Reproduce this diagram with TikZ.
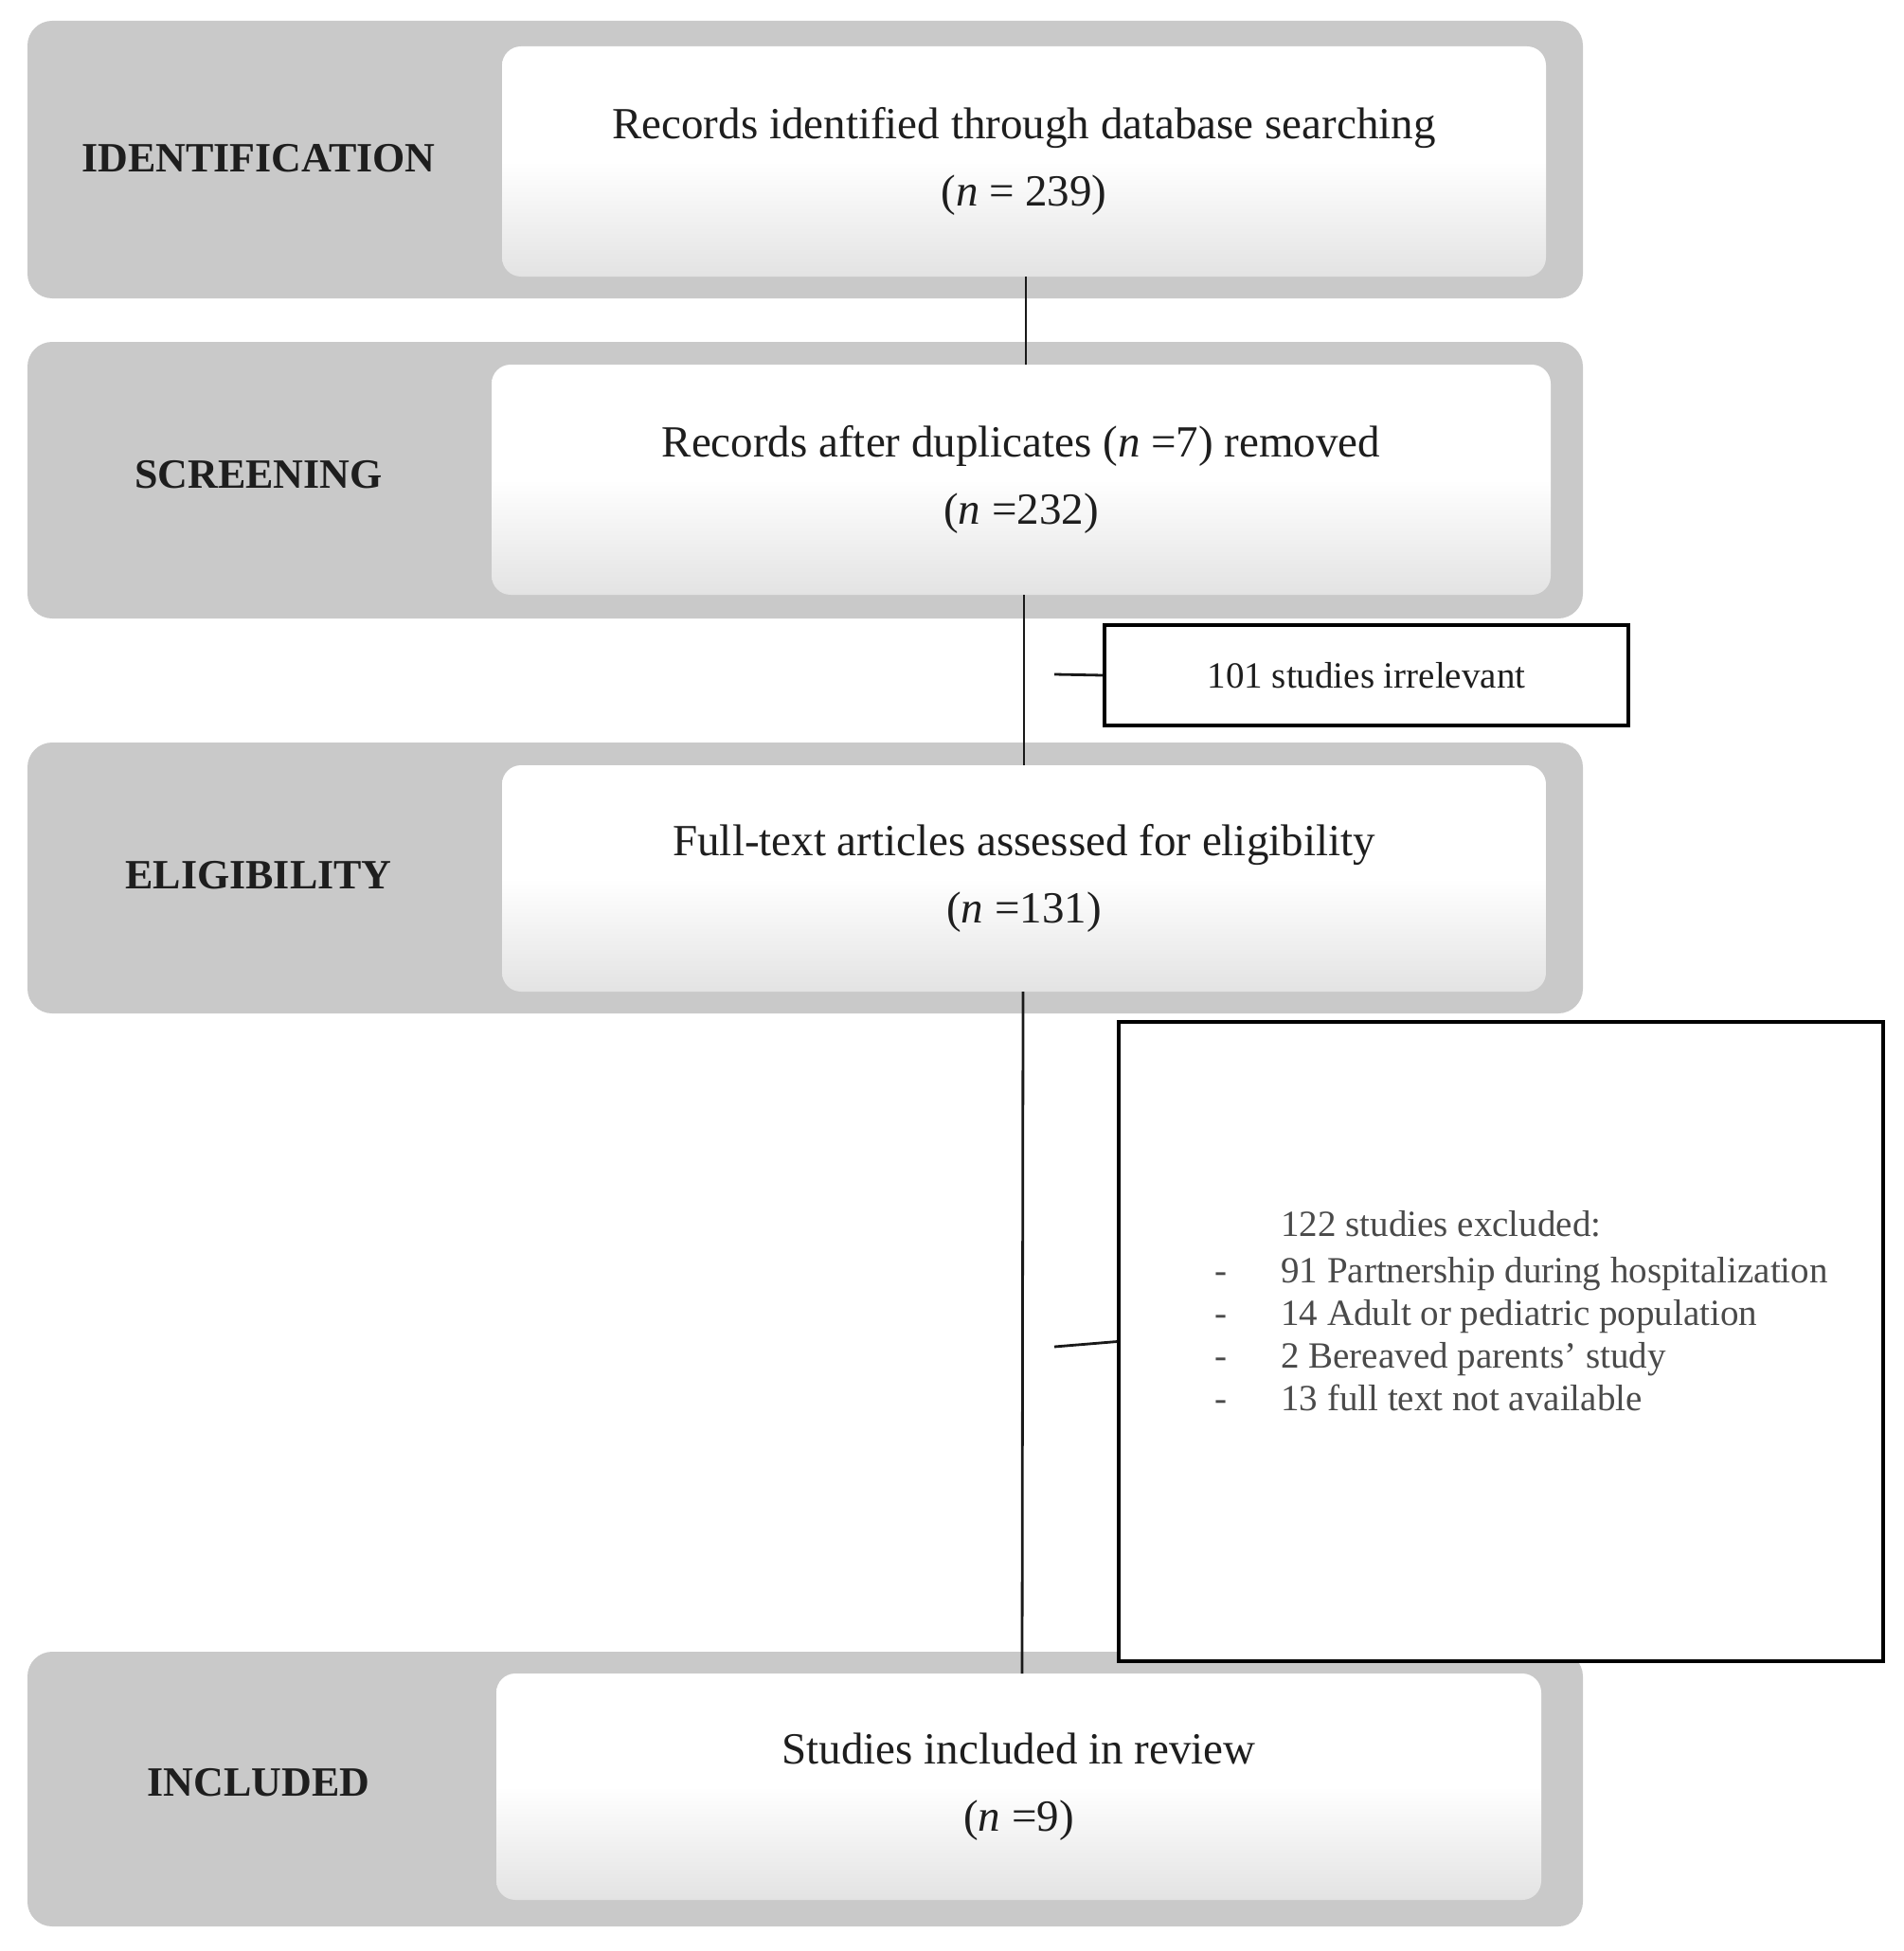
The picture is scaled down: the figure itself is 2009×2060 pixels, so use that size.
\documentclass[tikz,border=0pt]{standalone}
\usepackage{fontspec}
\setmainfont{Liberation Serif}
\definecolor{bandgray}{HTML}{C9C9C9}
\definecolor{txt}{HTML}{1E1E1E}
\definecolor{listtxt}{HTML}{4A4A4A}
\begin{document}
\begin{tikzpicture}[x=0.5pt,y=-0.5pt,
  band/.style={fill=bandgray, rounded corners=13pt},
  stage/.style={font=\fontsize{22}{26}\selectfont\bfseries, text=txt},
  inbox/.style={rounded corners=10pt, top color=white, bottom color=black!11, middle color=white,
     inner sep=0pt, align=center, text=txt, font=\fontsize{23.5}{35.5}\selectfont},
  sidebox/.style={draw=black, line width=1.6pt, fill=white, inner sep=0pt},
  conn/.style={draw=black!90, line width=1.4pt}]
\useasboundingbox (0,0) rectangle (2009,2060);
% bands
\path[band] (29,22) rectangle (1671,315);
\path[band] (29,361) rectangle (1671,653);
\path[band] (29,784) rectangle (1671,1070);
\path[band] (29,1744) rectangle (1671,2034);
% stage labels
\node[stage] (lid) at (273,167) {IDENTIFICATION};
\node[stage] (lsc) at (273,501) {SCREENING};
\node[stage] (lel) at (273,924) {ELIGIBILITY};
\node[stage] (lin) at (273,1882) {INCLUDED};
% inner boxes
\node[inbox, minimum width=551pt, minimum height=121.5pt] (b1) at (1081,170.5)
  {Records identified through database searching\\(\textit{n} = 239)};
\node[inbox, minimum width=559pt, minimum height=121.5pt] (b2) at (1078,506.5)
  {Records after duplicates (\textit{n} =7) removed\\(\textit{n} =232)};
\node[inbox, minimum width=551pt, minimum height=119.5pt] (b3) at (1081,927.5)
  {Full-text articles assessed for eligibility\\(\textit{n} =131)};
\node[inbox, minimum width=551.5pt, minimum height=119.5pt] (b4) at (1075.5,1886.5)
  {Studies included in review\\(\textit{n} =9)};
% side boxes
\node[sidebox, minimum width=276.5pt, minimum height=53pt, font=\fontsize{19.5}{23}\selectfont, text=txt] (irr) at (1442.5,713)
  {101 studies irrelevant};
\coordinate (c1) at (1083,292);
\coordinate (c2) at (1083,385);
\coordinate (c3) at (1081,628);
\coordinate (c4) at (1081,808);
\coordinate (c5) at (1080,1047);
\coordinate (c6) at (1079,1767);
\path[conn] (c1) -- (c2);
\path[conn] (c3) -- (c4);
\path[conn] (c5) -- (c6);
\coordinate (s1) at (1113,712);
\path[conn] (s1) -- (irr.west);
\node[sidebox, minimum width=403.5pt, minimum height=337.5pt] (exc) at (1584.5,1416.5) {};
\coordinate (s2) at (1113,1422);
\path[conn] (s2) -- (exc.west);
\node[anchor=north west, inner sep=0pt, text=listtxt, font=\fontsize{19.5}{22.5}\selectfont] (exl) at (1282,1274)
  {\begin{tabular}{@{}p{35pt}@{}l@{}}
   & 122 studies excluded:\\[2pt]
   - & 91 Partnership during hospitalization\\
   - & 14 Adult or pediatric population\\
   - & 2 Bereaved parents' study\\
   - & 13 full text not available
   \end{tabular}};
\end{tikzpicture}
\end{document}
